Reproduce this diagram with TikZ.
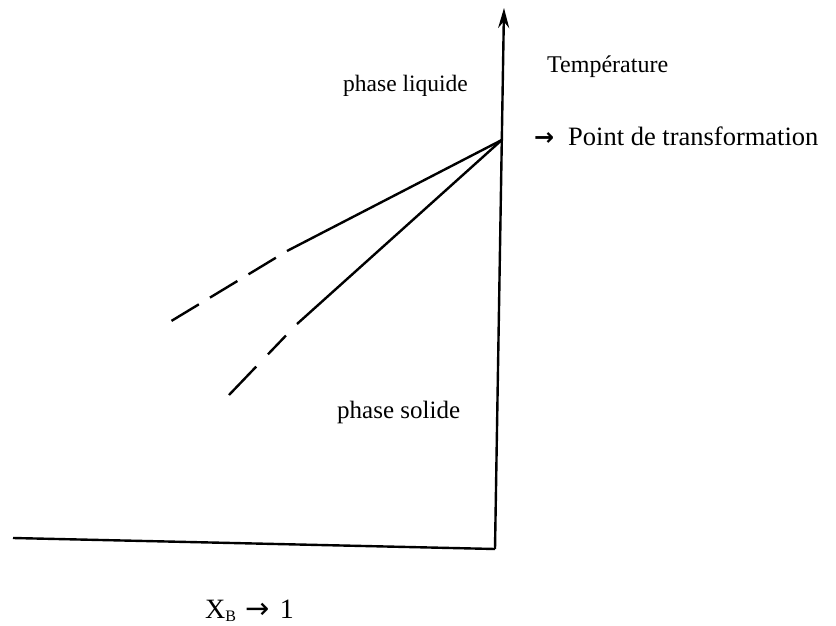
\documentclass[tikz,border=0pt]{standalone}
\usepackage{fontspec}
\setmainfont{Liberation Serif}
\newfontfamily\arrowfont{DejaVu Sans}
\usetikzlibrary{arrows.meta}
\begin{document}
\begin{tikzpicture}[x=1pt,y=-1pt,
  axis/.style={line width=2.4pt},
  curve/.style={line width=2.4pt},
  dashcurve/.style={line width=2.4pt,dash pattern=on 32pt off 13pt,dash phase=32pt},
  lbl/.style={inner sep=0pt,anchor=base west}]
\useasboundingbox (0,0) rectangle (836,626);
\coordinate (O) at (495,549);
\coordinate (top) at (504,8);
\coordinate (left) at (13,538);
\coordinate (P) at (501.8,140);
\coordinate (a1) at (287,251);
\coordinate (a2) at (168,323);
\coordinate (b1) at (297,324);
\coordinate (b2) at (229,395);
% axes
\draw[axis,-{Stealth[length=20pt,width=11pt]}] (O) -- (top);
\draw[axis] (left) -- (O);
% curves
\draw[curve] (P) -- (a1);
\draw[dashcurve] (a1) -- (a2);
\draw[curve] (P) -- (b1);
\draw[curve,dash pattern=on 26pt off 17pt on 40pt off 16pt,dash phase=83pt] (b1) -- (b2);
% labels
\node[lbl,font=\fontsize{24}{28}\selectfont] (temp) at (547,73) {Température};
\node[lbl,font=\arrowfont\bfseries\fontsize{24}{28}\selectfont] (arr) at (534,146) {→};
\node[lbl,font=\fontsize{26.5}{32}\selectfont] (pt) at (568,146) {Point de transformation};
\node[lbl,font=\fontsize{23.5}{28}\selectfont] (liq) at (343,92) {phase liquide};
\node[lbl,font=\fontsize{25}{30}\selectfont] (sol) at (337,418) {phase solide};
\node[lbl,font=\fontsize{28}{32}\selectfont] (xb) at (205,618) {X\textsubscript{\fontsize{16}{18}\selectfont B}\hspace{9pt}{\arrowfont\fontsize{29}{32}\selectfont →}\hspace{10pt}1};
\end{tikzpicture}
\end{document}
